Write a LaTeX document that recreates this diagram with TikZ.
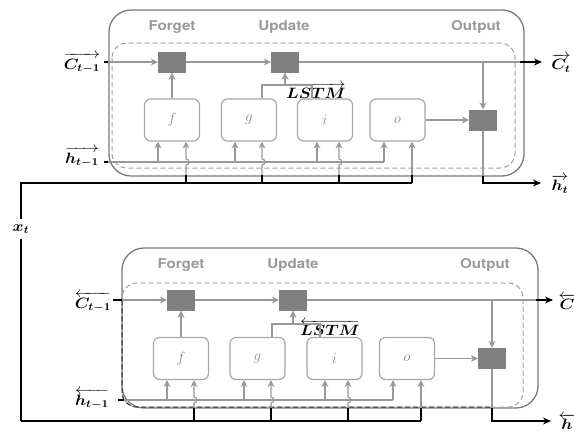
\RequirePackage{fix-cm}
\documentclass[tikz,border=0pt]{standalone}
\usepackage{amsmath}
\usepackage{bm}
\usepackage{graphicx}
\usepackage{fontspec}
\newfontfamily\phasefont{TeX Gyre Heros}
\usetikzlibrary{arrows.meta}
\newcommand\hs[1]{\scalebox{1.12}[1]{#1}}
\tikzset{
 outerbox/.style={draw=black!52, line width=1.3pt, rounded corners=22pt},
 innerbox/.style={draw=black!38, line width=1pt, dash pattern=on 5pt off 3pt, rounded corners=15pt},
 darkdash/.style={draw=black!85, line width=1pt, dash pattern=on 5pt off 3pt, rounded corners=15pt},
 gatebox/.style={draw=black!35, line width=1.2pt, rounded corners=6pt, minimum width=55pt, minimum height=42pt, inner sep=0pt, text=black!45, font=\fontsize{15}{17}\selectfont},
 opsq/.style={fill=black!50, minimum width=28pt, minimum height=21pt, inner sep=0pt},
 garr/.style={draw=black!40, line width=1.1pt, -{Stealth[length=7pt,width=7pt]}},
 gline/.style={draw=black!40, line width=1.1pt},
 barr/.style={draw=black, line width=1.2pt, -{Stealth[length=8pt,width=7pt]}},
 bline/.style={draw=black, line width=1.2pt},
 phase/.style={text=black!40, font=\phasefont\bfseries\fontsize{13.5}{16}\selectfont, inner sep=0pt},
 mlab/.style={font=\fontsize{15}{17}\selectfont, inner sep=0pt},
}
\begin{document}
\begin{tikzpicture}[x=1pt,y=-1pt]
\useasboundingbox (0,0) rectangle (574,432);

% ================= TOP BLOCK =================
\draw[outerbox] (109,10) rectangle (524,176);
\draw[innerbox] (112,43) rectangle (515,168);
\node[phase] (tF) at (172,27) {\hs{Forget}};
\node[phase] (tU) at (284,27) {\hs{Update}};
\node[phase] (tO) at (476,27) {\hs{Output}};

\node[opsq] (tfs) at (172,62) {};
\node[opsq] (tus) at (285,62) {};
\node[opsq] (tos) at (483,120) {};

\node[gatebox] (tf) at (172,120) {$f$};
\node[gatebox] (tg) at (249,120) {$g$};
\node[gatebox] (ti) at (325,120) {$i$};
\node[gatebox] (to) at (397.5,120) {$o$};

\node[mlab] (tCin) at (82,63) {\hs{$\overrightarrow{\bm{C_{t-1}}}$}};
\node[mlab] (thin) at (82,157) {\hs{$\overrightarrow{\bm{h_{t-1}}}$}};
\node[mlab] (tCt) at (561,63) {\hs{$\overrightarrow{\bm{C_t}}$}};
\node[mlab] (tht) at (560,184) {\hs{$\overrightarrow{\bm{h_t}}$}};
\node[mlab] (tL) at (316,91) {\hs{$\overrightarrow{\bm{LSTM}}$}};

\coordinate (tc0) at (104,62);
\coordinate (tc1) at (108,62);
\coordinate (tc2) at (520,62);
\coordinate (tce) at (542,62);
\coordinate (tcd) at (483,62);
\coordinate (th0) at (104,162);
\coordinate (th1) at (108,162);
\coordinate (thf) at (158,162);
\coordinate (thg) at (235,162);
\coordinate (thi) at (317,162);
\coordinate (tho) at (384,162);
\coordinate (txf) at (186,183);
\coordinate (txg) at (262,183);
\coordinate (txi) at (339,183);
\coordinate (txo) at (412,183);
\coordinate (tgj) at (262,85);
\coordinate (tij) at (312,85);
\coordinate (tuj) at (285,85);
\coordinate (tob) at (483,176);
\coordinate (toe) at (541,183);

% cell state
\draw[bline] (tc0) -- (tc1);
\draw[garr] (tc1) -- (tfs.west);
\draw[garr] (tfs.east) -- (tus.west);
\draw[gline] (tus.east) -- (tc2);
\draw[barr] (tc2) -- (tce);
\draw[garr] (tcd) -- (tos.north);
\draw[garr] (to.east) -- (tos.west);
\draw[gline] (tos.south) -- (tob);
\draw[barr] (tob) |- (toe);
% gates to squares
\draw[garr] (tf.north) -- (tfs.south);
\draw[gline] (tg.north -| tgj) -- (tgj) -- (tij) -- (ti.north -| tij);
\draw[garr] (tuj) -- (tus.south);
% hidden input
\draw[bline] (th0) -- (th1);
\draw[gline] (th1) -- (tho);
\draw[garr] (thf) -- (tf.south -| thf);
\draw[garr] (thg) -- (tg.south -| thg);
\draw[garr] (thi) -- (ti.south -| thi);
\draw[garr] (tho) -- (to.south -| tho);
% x input with hops
\draw[garr] (txf) -- ++(0,-18) .. controls +(4,0) and +(4,0) .. ++(0,-6) -- (tf.south -| txf);
\draw[garr] (txg) -- ++(0,-18) .. controls +(4,0) and +(4,0) .. ++(0,-6) -- (tg.south -| txg);
\draw[garr] (txi) -- ++(0,-18) .. controls +(4,0) and +(4,0) .. ++(0,-6) -- (ti.south -| txi);
\draw[garr] (txo) -- (to.south -| txo);
\draw[bline] (txf) -- ++(0,-8);
\draw[bline] (txg) -- ++(0,-8);
\draw[bline] (txi) -- ++(0,-8);
\draw[bline] (txo) -- ++(0,-8);

% ================= x_t =================
\coordinate (xtop) at (21,183);
\coordinate (xbot) at (21,421);
\node[mlab, inner sep=2pt, outer sep=4pt] (xt) at (21,229) {\hs{$\bm{x_t}$}};
\draw[bline] (txo) -- (xtop) -- (xt);
\draw[bline] (xt) -- (xbot);

% ================= BOTTOM BLOCK =================
\draw[outerbox] (122,248) rectangle (538,408);
\draw[innerbox] (122,283) rectangle (523,407);
\draw[darkdash] (122,300) -- (122,407) -- (492,407);
\node[phase] (bF) at (181,265) {\hs{Forget}};
\node[phase] (bU) at (293,265) {\hs{Update}};
\node[phase] (bO) at (485,265) {\hs{Output}};

\node[opsq] (bfs) at (181,300) {};
\node[opsq] (bus) at (293,300) {};
\node[opsq] (bos) at (492,358.5) {};

\node[gatebox] (bf) at (181,358.5) {$f$};
\node[gatebox] (bg) at (257.5,358.5) {$g$};
\node[gatebox] (bi) at (334.5,358.5) {$i$};
\node[gatebox] (bo) at (407,358.5) {$o$};

\node[mlab] (bCin) at (93,302) {\hs{$\overleftarrow{\bm{C_{t-1}}}$}};
\node[mlab] (bhin) at (92,399) {\hs{$\overleftarrow{\bm{h_{t-1}}}$}};
\node[mlab] (bCt) at (567,302) {\hs{$\overleftarrow{\bm{C}}$}};
\node[mlab] (bht) at (567,422) {\hs{$\overleftarrow{\bm{h}}$}};
\node[mlab] (bL) at (330,328) {\hs{$\overleftarrow{\bm{LSTM}}$}};

\coordinate (bc0) at (113,300);
\coordinate (bc1) at (122,300);
\coordinate (bc2) at (536,300);
\coordinate (bce) at (553,300);
\coordinate (bcd) at (492,300);
\coordinate (bh0) at (118,400);
\coordinate (bh1) at (124,400);
\coordinate (bhf) at (167,400);
\coordinate (bhg) at (244,400);
\coordinate (bhi) at (325,400);
\coordinate (bho) at (393,400);
\coordinate (bxf) at (194,421);
\coordinate (bxg) at (271,421);
\coordinate (bxi) at (348,421);
\coordinate (bxo) at (421,421);
\coordinate (bgj) at (272,324);
\coordinate (bij) at (320,324);
\coordinate (buj) at (293,324);
\coordinate (bob) at (492,408);
\coordinate (boe) at (551,421);

\draw[bline] (bc0) -- (bc1);
\draw[garr] (bc1) -- (bfs.west);
\draw[garr] (bfs.east) -- (bus.west);
\draw[gline] (bus.east) -- (bc2);
\draw[barr] (bc2) -- (bce);
\draw[garr] (bcd) -- (bos.north);
\draw[garr] (bo.east) -- (bos.west);
\draw[gline] (bos.south) -- (bob);
\draw[barr] (bob) |- (boe);
\draw[garr] (bf.north) -- (bfs.south);
\draw[gline] (bg.north -| bgj) -- (bgj) -- (bij) -- (bi.north -| bij);
\draw[garr] (buj) -- (bus.south);
\draw[bline] (bh0) -- (bh1);
\draw[gline] (bh1) -- (bho);
\draw[garr] (bhf) -- (bf.south -| bhf);
\draw[garr] (bhg) -- (bg.south -| bhg);
\draw[garr] (bhi) -- (bi.south -| bhi);
\draw[garr] (bho) -- (bo.south -| bho);
\draw[garr] (bxf) -- ++(0,-18) .. controls +(4,0) and +(4,0) .. ++(0,-6) -- (bf.south -| bxf);
\draw[garr] (bxg) -- ++(0,-18) .. controls +(4,0) and +(4,0) .. ++(0,-6) -- (bg.south -| bxg);
\draw[garr] (bxi) -- ++(0,-18) .. controls +(4,0) and +(4,0) .. ++(0,-6) -- (bi.south -| bxi);
\draw[garr] (bxo) -- (bo.south -| bxo);
\draw[bline] (bxf) -- ++(0,-13);
\draw[bline] (bxg) -- ++(0,-13);
\draw[bline] (bxi) -- ++(0,-13);
\draw[bline] (bxo) -- ++(0,-13);
\draw[bline] (xbot) -- (bxo);
\end{tikzpicture}
\end{document}
